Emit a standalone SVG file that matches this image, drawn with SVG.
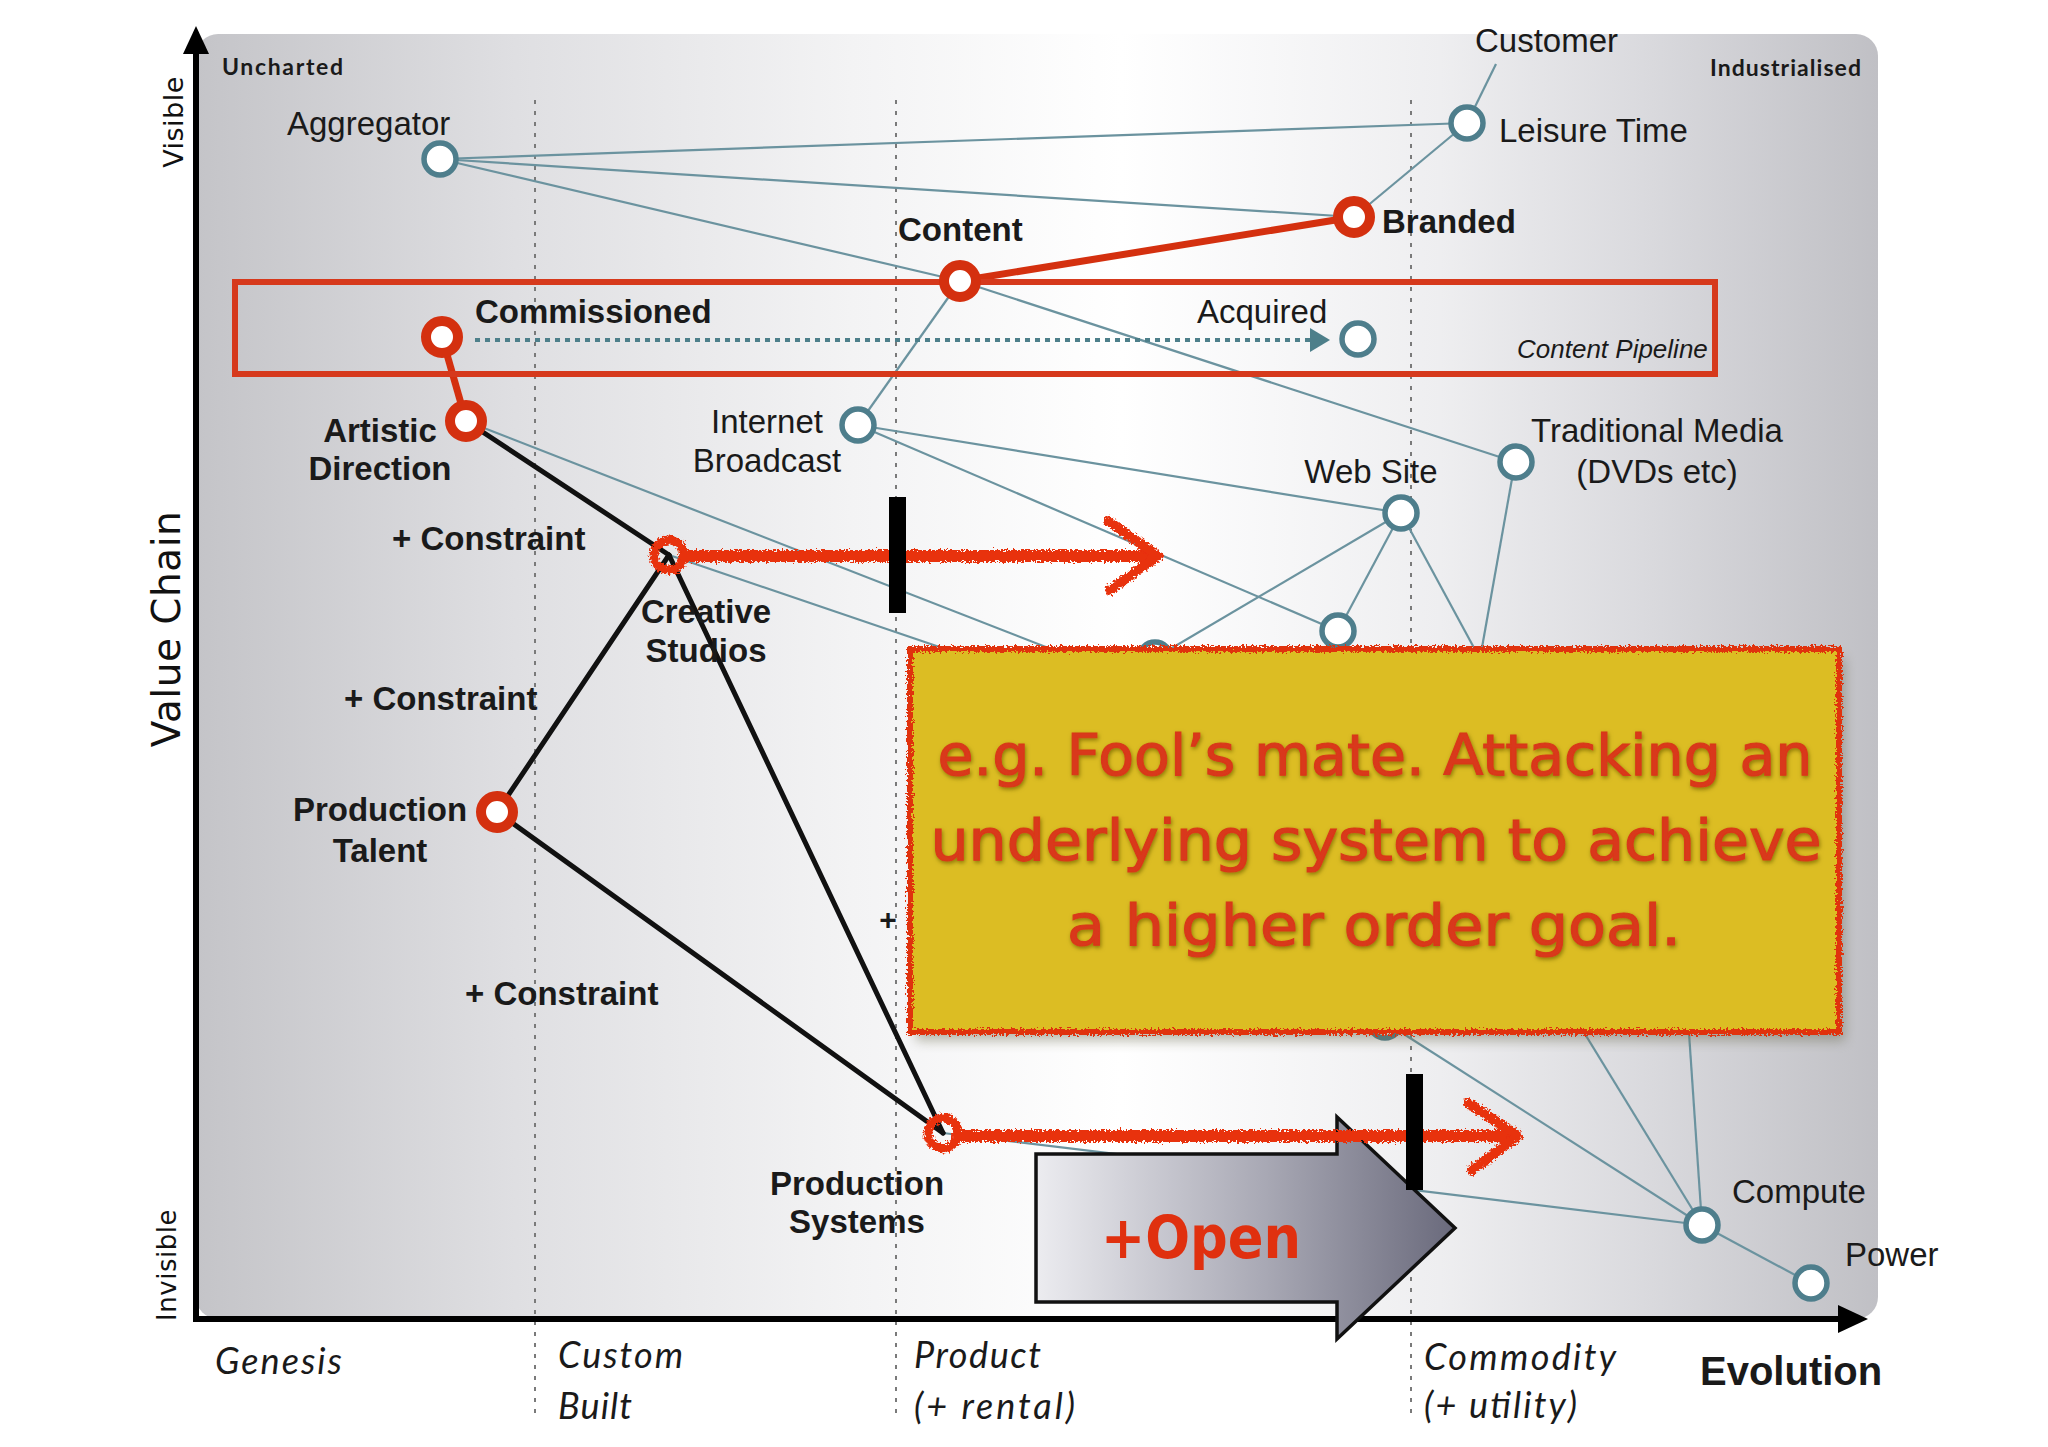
<svg xmlns="http://www.w3.org/2000/svg" width="2048" height="1447" viewBox="0 0 2048 1447">
<defs>
<style>
.lbl{font-family:"Liberation Sans",Arial,sans-serif;font-size:33px;fill:#1a1a1a}
.b{font-weight:bold}
.conn{stroke:#6b939f;stroke-width:2.2;fill:none}
.nb{fill:#fff;stroke:#4e7e8c;stroke-width:5.5}
.nr{fill:#fff;stroke:#d4300f;stroke-width:10}
.dot{stroke:#7a7a7a;stroke-width:2;stroke-dasharray:4 7}
.blk{stroke:#111;stroke-width:5;fill:none;stroke-linecap:round}
.redline{stroke:#d4300f;stroke-width:7;fill:none}
.scrib{stroke:#e8300c;fill:none;stroke-linecap:round;stroke-linejoin:round}
.evo{font-family:Lato,"Liberation Sans",sans-serif;font-style:italic;font-size:36px;fill:#1a1a1a}
.corner{font-family:Lato,"Liberation Sans",sans-serif;font-weight:bold;font-size:23px;fill:#1a1a1a}
.axis{font-family:"DejaVu Sans",Verdana,sans-serif;fill:#111}
.comic{font-family:"DejaVu Sans",Verdana,sans-serif;fill:#d9381a;stroke:#d9381a;stroke-width:1.2;font-size:57px}
.small{font-size:26px;font-style:italic}
.plus{font-size:30px}
</style>
<linearGradient id="bg" gradientUnits="userSpaceOnUse" x1="196" y1="0" x2="1878" y2="0">
<stop offset="0" stop-color="#c4c4c8"/>
<stop offset="0.19" stop-color="#dfdfe2"/>
<stop offset="0.39" stop-color="#f3f3f4"/>
<stop offset="0.55" stop-color="#ffffff"/>
<stop offset="0.74" stop-color="#eeeef0"/>
<stop offset="0.86" stop-color="#dadade"/>
<stop offset="1" stop-color="#c0c0c5"/>
</linearGradient>
<linearGradient id="arrowg" gradientUnits="userSpaceOnUse" x1="1036" y1="0" x2="1455" y2="0">
<stop offset="0" stop-color="#ececf0"/>
<stop offset="0.55" stop-color="#a8a8b4"/>
<stop offset="1" stop-color="#6a6a7c"/>
</linearGradient>
<filter id="rough" filterUnits="userSpaceOnUse" x="0" y="0" width="2048" height="1447">
<feTurbulence type="fractalNoise" baseFrequency="0.45" numOctaves="2" seed="3" result="noise"/>
<feDisplacementMap in="SourceGraphic" in2="noise" scale="8" xChannelSelector="R" yChannelSelector="G"/>
</filter>
<filter id="shadow" x="-5%" y="-5%" width="110%" height="115%">
<feGaussianBlur stdDeviation="6"/>
</filter>
<filter id="glow" x="-5%" y="-30%" width="110%" height="160%">
<feGaussianBlur in="SourceAlpha" stdDeviation="2.2"/>
<feOffset dx="1" dy="2" result="b"/>
<feFlood flood-color="#7d6a08" flood-opacity="0.85"/>
<feComposite in2="b" operator="in" result="s"/>
<feMerge><feMergeNode in="s"/><feMergeNode in="SourceGraphic"/></feMerge>
</filter>
<marker id="dotarrow" markerWidth="6" markerHeight="6" refX="4" refY="3" orient="auto" markerUnits="strokeWidth">
<path d="M0,0 L5,3 L0,6 Z" fill="#4d7f8a"/>
</marker>
</defs>

<rect width="2048" height="1447" fill="#fff"/>
<g id="background">
<rect x="196" y="34" width="1682" height="1285" rx="22" fill="url(#bg)"/>
<line class="dot" x1="535" y1="100" x2="535" y2="1420"/>
<line class="dot" x1="896" y1="100" x2="896" y2="1420"/>
<line class="dot" x1="1411" y1="100" x2="1411" y2="1420"/>
</g>

<g id="axes">
<line x1="196" y1="1319" x2="196" y2="48" stroke="#000" stroke-width="6"/>
<polygon points="196,26 183,54 209,54" fill="#000"/>
<line x1="193" y1="1319" x2="1845" y2="1319" stroke="#000" stroke-width="6"/>
<polygon points="1868,1319 1838,1305 1838,1333" fill="#000"/>
<text class="axis" font-size="27" letter-spacing="0.5" text-anchor="middle" transform="translate(183,122) rotate(-90)">Visible</text>
<text class="axis" font-size="39" letter-spacing="0.5" text-anchor="middle" transform="translate(180,629) rotate(-90)">Value Chain</text>
<text class="axis" font-size="26" letter-spacing="0.5" text-anchor="middle" transform="translate(176,1265) rotate(-90)">Invisible</text>
<text class="corner" x="222" y="75" textLength="121">Uncharted</text>
<text class="corner" x="1710" y="76" textLength="151">Industrialised</text>
<text class="evo" x="215" y="1374" textLength="127">Genesis</text>
<text class="evo" x="558" y="1368" textLength="125">Custom</text>
<text class="evo" x="558" y="1419" textLength="74">Built</text>
<text class="evo" x="914" y="1368" textLength="127">Product</text>
<text class="evo" x="914" y="1419" textLength="161">(+ rental)</text>
<text class="evo" x="1424" y="1370" textLength="192">Commodity</text>
<text class="evo" x="1424" y="1418" textLength="153">(+ utility)</text>
<text x="1700" y="1385" font-family="'Liberation Sans',Arial,sans-serif" font-weight="bold" font-size="40" fill="#1a1a1a">Evolution</text>
</g>

<g id="connectors">
<line class="conn" x1="440" y1="159" x2="1467" y2="123"/>
<line class="conn" x1="440" y1="159" x2="1354" y2="217"/>
<line class="conn" x1="440" y1="159" x2="960" y2="281"/>
<line class="conn" x1="1467" y1="123" x2="1354" y2="217"/>
<line class="conn" x1="1467" y1="123" x2="1496" y2="64"/>
<line class="conn" x1="960" y1="281" x2="858" y2="425"/>
<line class="conn" x1="960" y1="281" x2="1515" y2="462"/>
<line class="conn" x1="466" y1="421" x2="1110" y2="672"/>
<line class="conn" x1="669" y1="555" x2="1010" y2="671"/>
<line class="conn" x1="858" y1="425" x2="1401" y2="513"/>
<line class="conn" x1="858" y1="425" x2="1338" y2="631"/>
<line class="conn" x1="1155" y1="658" x2="1401" y2="513"/>
<line class="conn" x1="1338" y1="631" x2="1401" y2="513"/>
<line class="conn" x1="1401" y1="513" x2="1486" y2="670"/>
<line class="conn" x1="1515" y1="462" x2="1478" y2="670"/>
<line class="conn" x1="943" y1="1133" x2="1702" y2="1225"/>
<line class="conn" x1="1338" y1="631" x2="1702" y2="1225"/>
<line class="conn" x1="1680" y1="900" x2="1702" y2="1225"/>
<line class="conn" x1="1385" y1="1022" x2="1702" y2="1225"/>
<line class="conn" x1="1702" y1="1225" x2="1810" y2="1283"/>
<line x1="475" y1="340" x2="1326" y2="340" stroke="#4d7f8a" stroke-width="4" stroke-dasharray="5 5" marker-end="url(#dotarrow)"/>
<line class="redline" x1="960" y1="281" x2="1354" y2="217"/>
<line class="redline" x1="442" y1="337" x2="466" y2="421"/>
<line class="blk" x1="466" y1="421" x2="669" y2="555"/>
<line class="blk" x1="669" y1="555" x2="497" y2="812"/>
<line class="blk" x1="669" y1="555" x2="943" y2="1133"/>
<line class="blk" x1="497" y1="812" x2="943" y2="1133"/>
</g>

<g id="content-pipeline">
<rect x="235" y="282" width="1480" height="92" fill="none" stroke="#d6391c" stroke-width="6"/>
<text class="lbl small" x="1517" y="358">Content Pipeline</text>
</g>

<g id="node-customer"><text class="lbl" x="1475" y="52">Customer</text></g>
<g id="node-aggregator"><circle class="nb" cx="440" cy="159" r="16"/><text class="lbl" x="287" y="135">Aggregator</text></g>
<g id="node-leisure-time"><circle class="nb" cx="1467" cy="123" r="16"/><text class="lbl" x="1499" y="142">Leisure Time</text></g>
<g id="node-branded"><circle class="nr" cx="1354" cy="217" r="16"/><text class="lbl b" x="1382" y="233">Branded</text></g>
<g id="node-content"><circle class="nr" cx="960" cy="281" r="16"/><text class="lbl b" x="898" y="241">Content</text></g>
<g id="node-commissioned"><circle class="nr" cx="442" cy="337" r="16"/><text class="lbl b" x="475" y="323">Commissioned</text></g>
<g id="node-acquired"><circle class="nb" cx="1358" cy="339" r="16"/><text class="lbl" x="1197" y="323">Acquired</text></g>
<g id="node-artistic-direction"><circle class="nr" cx="466" cy="421" r="16"/><text class="lbl b" x="380" y="442" text-anchor="middle">Artistic</text><text class="lbl b" x="380" y="480" text-anchor="middle">Direction</text></g>
<g id="node-internet-broadcast"><circle class="nb" cx="858" cy="425" r="16"/><text class="lbl" x="767" y="433" text-anchor="middle">Internet</text><text class="lbl" x="767" y="472" text-anchor="middle">Broadcast</text></g>
<g id="node-traditional-media"><circle class="nb" cx="1516" cy="462" r="16"/><text class="lbl" x="1657" y="442" text-anchor="middle">Traditional Media</text><text class="lbl" x="1657" y="483" text-anchor="middle">(DVDs etc)</text></g>
<g id="node-web-site"><circle class="nb" cx="1401" cy="513" r="16"/><text class="lbl" x="1371" y="483" text-anchor="middle">Web Site</text></g>
<g id="node-hidden-1"><circle class="nb" cx="1338" cy="631" r="16"/></g>
<g id="node-hidden-2"><circle class="nb" cx="1155" cy="658" r="16"/></g>
<g id="node-hidden-3"><circle class="nb" cx="1385" cy="1022" r="16"/></g>
<g id="node-creative-studios"><circle cx="669" cy="555" r="15" fill="none" stroke="#e8300c" stroke-width="9" filter="url(#rough)"/><text class="lbl b" x="706" y="623" text-anchor="middle">Creative</text><text class="lbl b" x="706" y="662" text-anchor="middle">Studios</text></g>
<g id="node-production-talent"><circle class="nr" cx="497" cy="812" r="16"/><text class="lbl b" x="380" y="821" text-anchor="middle">Production</text><text class="lbl b" x="380" y="862" text-anchor="middle">Talent</text></g>
<g id="node-production-systems"><circle cx="943" cy="1133" r="15" fill="none" stroke="#e8300c" stroke-width="9" filter="url(#rough)"/><text class="lbl b" x="857" y="1195" text-anchor="middle">Production</text><text class="lbl b" x="857" y="1233" text-anchor="middle">Systems</text></g>
<g id="node-compute"><circle class="nb" cx="1702" cy="1225" r="16"/><text class="lbl" x="1732" y="1203">Compute</text></g>
<g id="node-power"><circle class="nb" cx="1811" cy="1283" r="16"/><text class="lbl" x="1845" y="1266">Power</text></g>

<g id="constraint-labels">
<text class="lbl b" x="392" y="550">+ Constraint</text>
<text class="lbl b" x="344" y="710">+ Constraint</text>
<text class="lbl b" x="465" y="1005">+ Constraint</text>
<text class="lbl b plus" x="888" y="930" text-anchor="middle">+</text>
</g>

<g id="note-box">
<rect x="916" y="658" width="929" height="383" fill="#6a6a50" opacity="0.45" filter="url(#shadow)"/>
<rect x="910" y="649" width="929" height="383" fill="#dcbd23"/>
<rect x="910" y="649" width="929" height="383" fill="none" stroke="#e0300f" stroke-width="6" filter="url(#rough)"/>
<g filter="url(#glow)">
<text class="comic" x="1375" y="775" text-anchor="middle" textLength="875" lengthAdjust="spacingAndGlyphs">e.g. Fool’s mate. Attacking an</text>
<text class="comic" x="1376" y="860" text-anchor="middle" textLength="891" lengthAdjust="spacingAndGlyphs">underlying system to achieve</text>
<text class="comic" x="1374" y="945" text-anchor="middle" textLength="614" lengthAdjust="spacingAndGlyphs">a higher order goal.</text>
</g>
</g>

<g id="open-arrow">
<polygon points="1036,1154 1337,1154 1337,1117 1455,1228 1337,1339 1337,1302 1036,1302" fill="url(#arrowg)" stroke="#111" stroke-width="3.5" stroke-linejoin="miter"/>
<text x="1101" y="1258" font-family="'DejaVu Sans',Verdana,sans-serif" font-weight="bold" font-size="58" fill="#e0300f" textLength="200" lengthAdjust="spacingAndGlyphs">+Open</text>
</g>

<g id="movement-arrows">
<g filter="url(#rough)">
<line class="scrib" x1="684" y1="556" x2="1155" y2="556" stroke-width="12"/>
<polyline class="scrib" points="1108,521 1158,556 1110,590" stroke-width="10"/>
<line class="scrib" x1="958" y1="1136" x2="1515" y2="1136" stroke-width="12"/>
<polyline class="scrib" points="1468,1103 1518,1136 1472,1170" stroke-width="10"/>
</g>
<rect x="889" y="497" width="17" height="116" fill="#000"/>
<rect x="1406" y="1074" width="17" height="116" fill="#000"/>
</g>
</svg>
